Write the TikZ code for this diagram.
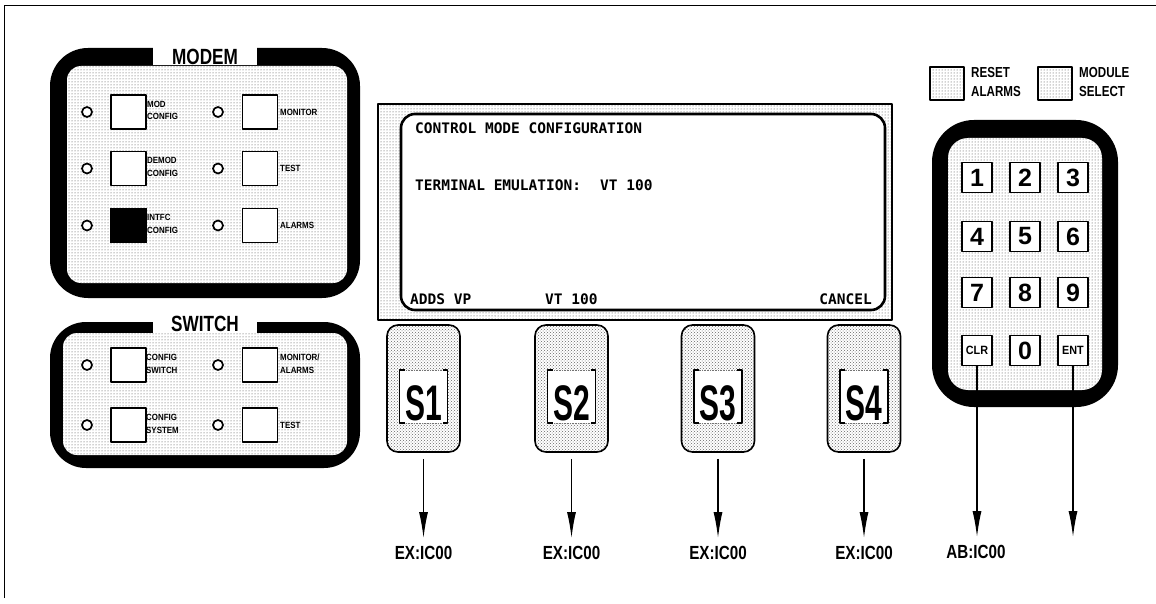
\documentclass[tikz,border=0pt]{standalone}
\usepackage{fontspec}
\usepackage{graphicx}
\setmainfont{Liberation Sans}
\newfontfamily\monofnt{DejaVu Sans Mono}
\usetikzlibrary{patterns,arrows.meta}
\newcommand{\cnd}[2]{\scalebox{#1}[1]{#2}}
\begin{document}
\begin{tikzpicture}[x=1pt,y=-1pt,line join=round,
  dotfill/.style={preaction={fill=white}, pattern=dots, pattern color=black!75},
  sdotfill/.style={preaction={fill=white}, pattern=crosshatch dots, pattern color=black!60},
  led/.style={circle, draw, line width=1.7pt, fill=white, minimum size=10pt, inner sep=0},
  btn/.style={draw, line width=1.4pt, fill=white, minimum width=35pt, minimum height=34pt, inner sep=0},
  lbl/.style={font=\bfseries\fontsize{9}{12.5}\selectfont, align=left, anchor=west, inner sep=0},
  ttl/.style={font=\bfseries\fontsize{22}{22}\selectfont, inner sep=0},
  scr/.style={font=\monofnt\bfseries\fontsize{14.5}{14.5}\selectfont, inner sep=0},
  skey/.style={draw, line width=1.6pt, rounded corners=11pt, sdotfill, minimum width=73pt, minimum height=127pt, inner sep=0},
  stxt/.style={font=\bfseries\fontsize{50}{50}\selectfont, inner sep=0},
  kkey/.style={draw, line width=1.8pt, fill=white, minimum size=30pt, inner sep=0, font=\bfseries\fontsize{25}{25}\selectfont},
  ksm/.style={kkey, font=\bfseries\fontsize{12}{12}\selectfont},
  sbox/.style={draw, line width=1.5pt, dotfill, minimum width=34pt, minimum height=33pt, inner sep=0},
  klbl/.style={font=\bfseries\fontsize{14.5}{19.5}\selectfont, align=left, anchor=west, inner sep=0},
  ex/.style={font=\bfseries\fontsize{19}{19}\selectfont, inner sep=0},
  arr/.style={line width=1.3pt, -{Latex[length=26pt,width=9pt]}}
]
\useasboundingbox (0,0) rectangle (1156,604);
\fill[white] (0,0) rectangle (1156,604);
% frame
\draw[line width=1.5pt] (4.5,598) -- (4.5,5.5) -- (1156,5.5);

% ---------------- MODEM panel
\fill[rounded corners=38pt] (50,48) rectangle (360,298);
\path[dotfill, rounded corners=14pt] (67,66) rectangle (347,283);
\fill[white] (153,44) rectangle (257,65.5);
\node[ttl] (modemt) at (205,57) {\cnd{0.78}{MODEM}};
\foreach \r/\y in {1/112,2/168.5,3/225.5}{
  \node[led] (ml\r) at (87,\y) {};
  \node[led] (mr\r) at (218,\y) {};
  \node[btn] (mb\r) at (128.5,\y) {};
  \node[btn] (mc\r) at (260,\y) {};
}
\fill (mb3.south west) rectangle (mb3.north east);
\node[lbl] (mlab1) at (147,110.5) {\cnd{0.88}{MOD}\\\cnd{0.88}{CONFIG}};
\node[lbl] (mlab2) at (147,167) {\cnd{0.88}{DEMOD}\\\cnd{0.88}{CONFIG}};
\node[lbl] (mlab3) at (147,224) {\cnd{0.88}{INTFC}\\\cnd{0.88}{CONFIG}};
\node[lbl] (mlab4) at (280,112) {\cnd{0.88}{MONITOR}};
\node[lbl] (mlab5) at (280,168.5) {\cnd{0.88}{TEST}};
\node[lbl] (mlab6) at (280,225.5) {\cnd{0.88}{ALARMS}};

% ---------------- SWITCH panel
\fill[rounded corners=36pt] (50,322) rectangle (360,468);
\path[dotfill, rounded corners=14pt] (63,333) rectangle (347,455);
\fill[white] (153,312) rectangle (257,332.5);
\node[ttl] (switcht) at (205,323.5) {\cnd{0.78}{SWITCH}};
\foreach \r/\y in {1/365,2/425}{
  \node[led] (sl\r) at (87,\y) {};
  \node[led] (sr\r) at (218,\y) {};
  \node[btn] (sb\r) at (128.5,\y) {};
  \node[btn] (sc\r) at (260,\y) {};
}
\node[lbl] (slab1) at (146,364) {\cnd{0.88}{CONFIG}\\\cnd{0.88}{SWITCH}};
\node[lbl] (slab2) at (146,424) {\cnd{0.88}{CONFIG}\\\cnd{0.88}{SYSTEM}};
\node[lbl] (slab3) at (280,364) {\cnd{0.88}{MONITOR/}\\\cnd{0.88}{ALARMS}};
\node[lbl] (slab4) at (280,425) {\cnd{0.88}{TEST}};

% ---------------- Display
\draw[line width=1.8pt, dotfill] (378,104) rectangle (892,320);
\draw[line width=2.6pt, fill=white, rounded corners=14pt] (401,114) rectangle (885,310);
\node[scr, anchor=west] (d1) at (415,128) {CONTROL MODE CONFIGURATION};
\node[scr, anchor=west] (d2) at (415,185) {TERMINAL EMULATION:};
\node[scr, anchor=west] (d3) at (600,185) {VT 100};
\node[scr, anchor=west] (d4) at (410,299) {ADDS VP};
\node[scr, anchor=west] (d5) at (545,299) {VT 100};
\node[scr, anchor=east] (d6) at (872,299) {CANCEL};

% ---------------- Soft keys
\foreach \i/\x in {1/423.5,2/571.5,3/718,4/864}{
  \node[skey] (s\i) at (\x,388.5) {};
  \fill[white] (\x-24,370) rectangle (\x+24,423);
  \draw[black!55, densely dotted, line width=0.6pt] (\x-24,370) -- (\x+24,370) (\x-24,423) -- (\x+24,423);
  \draw[line width=1.3pt] (\x-19,370) -- (\x-24,370) -- (\x-24,423) -- (\x-19,423);
  \draw[line width=1.3pt] (\x+19,370) -- (\x+24,370) -- (\x+24,423) -- (\x+19,423);
  \node[stxt] (st\i) at (\x,403) {\cnd{0.6}{S\i}};
  \node[ex] (e\i) at (\x,553) {\cnd{0.8}{EX:IC00}};
  \draw[arr, shorten >=8pt] ([yshift=-6pt]s\i.south) -- (e\i.north);
}

% ---------------- Reset / module select
\node[sbox] (rst) at (947,83.5) {};
\node[klbl] (rstl) at (971,82) {\cnd{0.8}{RESET}\\\cnd{0.8}{ALARMS}};
\node[sbox] (mod) at (1055,83.5) {};
\node[klbl] (modl) at (1079,82) {\cnd{0.8}{MODULE}\\\cnd{0.8}{SELECT}};

% ---------------- Keypad
\fill[rounded corners=42pt] (932,120) rectangle (1118,407);
\path[dotfill, rounded corners=20pt] (948,138) rectangle (1102,390);
\node[kkey] (k1) at (977,177.5) {1};
\node[kkey] (k2) at (1025,177.5) {2};
\node[kkey] (k3) at (1073,177.5) {3};
\node[kkey] (k4) at (977,236.5) {4};
\node[kkey] (k5) at (1025,236.5) {5};
\node[kkey] (k6) at (1073,236.5) {6};
\node[kkey] (k7) at (977,292.5) {7};
\node[kkey] (k8) at (1025,292.5) {8};
\node[kkey] (k9) at (1073,292.5) {9};
\node[ksm] (kclr) at (977,350.5) {\cnd{0.9}{CLR}};
\node[kkey] (k0) at (1025,350.5) {0};
\node[ksm] (kent) at (1073,350.5) {\cnd{0.9}{ENT}};

\node[ex] (ab) at (976,552) {\cnd{0.8}{AB:IC00}};
\coordinate (entend) at (1073,537);
\draw[arr, shorten >=8pt] (kclr.south) -- (kclr.south |- ab.north);
\draw[arr] (kent.south) -- (entend);
\end{tikzpicture}
\end{document}
